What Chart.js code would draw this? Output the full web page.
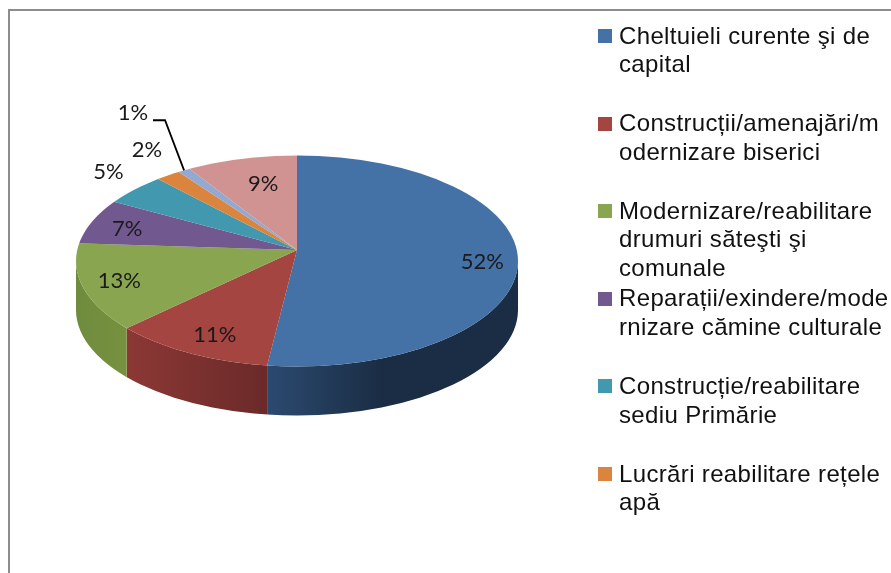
<!DOCTYPE html>
<html lang="ro">
<head>
    <meta charset="UTF-8">
    <title>Pie 3D</title>
    <script src="https://cdn.jsdelivr.net/npm/chart.js"></script>
    <style>
        html, body { margin: 0; padding: 0; background: #fff; }
        canvas { display: block; }
    </style>
</head>
<body>
    <canvas id="pieChart" width="891" height="573"></canvas>

    <script>
        // Values. The last two categories are cut off in the legend
        const categories = [
            'Cheltuieli curente şi de capital',
            'Construcții/amenajări/modernizare biserici',
            'Modernizare/reabilitare drumuri săteşti şi comunale',
            'Reparații/exindere/modernizare cămine culturale',
            'Construcție/reabilitare sediu Primărie',
            'Lucrări reabilitare rețele apă',
            '',
            ''
        ];
        const values = [52, 11, 13, 7, 5, 2, 1, 9];
        const legendLines = [
            ['Cheltuieli curente şi de', 'capital'],
            ['Construcții/amenajări/m', 'odernizare biserici'],
            ['Modernizare/reabilitare', 'drumuri săteşti şi', 'comunale'],
            ['Reparații/exindere/mode', 'rnizare cămine culturale'],
            ['Construcție/reabilitare', 'sediu Primărie'],
            ['Lucrări reabilitare rețele', 'apă']
        ];

        const colors = ['#4471a6', '#a54541', '#89a550', '#71588f', '#4198af', '#db843d', '#93a9cf', '#d19392'];
        const wallLeft = ['#2b4a70', '#8c3835', '#6f8b3d'];
        const wallRight = ['#1b2d45', '#6a2a29', '#76923f'];
        const wallFade = [0.45, 1, 1];

        // Label placement: how far along the slice middle, then a lift in pixels
        const labelReach = [0.84, 0.82, 0.855, 0.8, 1.08, 1.065, 1.32, 0.55];
        const labelLift = [6, 6, 0, 3, -8, -13, -21, -10];

        // Perspective look: wedges meet above the middle of the ellipse
        const view = {
            apexY: 250,
            ellipseY: 261,
            ellipseRy: 105.5,
            backRy: 106,
            frontRy: 108,
            depth: 49,
            overdraw: 1.25
        };

        function ellipsePath(ctx, cx, cy, rx, ry) {
            ctx.beginPath();
            ctx.ellipse(cx, cy, rx, ry, 0, 0, Math.PI * 2);
        }

        // Where a wedge edge at this angle meets the rim of the ellipse
        function rimPoint(arc, angle, reach) {
            const R = arc.outerRadius;
            const dx = Math.cos(angle) * R;
            const dy = Math.sin(angle) * (Math.sin(angle) < 0 ? view.backRy : view.frontRy);
            if (reach !== undefined) {
                return { x: arc.x + dx * reach, y: view.apexY + dy * reach };
            }
            const off = view.apexY - view.ellipseY;
            const ry2 = view.ellipseRy * view.ellipseRy;
            const A = dx * dx / (R * R) + dy * dy / ry2;
            const B = 2 * off * dy / ry2;
            const C = off * off / ry2 - 1;
            const t = (-B + Math.sqrt(B * B - 4 * A * C)) / (2 * A);
            return { x: arc.x + dx * t, y: view.apexY + dy * t };
        }

        const pie3d = {
            id: 'pie3d',
            beforeDraw(chart) {
                // frame of the original picture, open on the right and at the bottom
                const ctx = chart.ctx;
                ctx.save();
                ctx.strokeStyle = '#8c8c8c';
                ctx.lineWidth = 2;
                ctx.beginPath();
                ctx.moveTo(9, chart.height);
                ctx.lineTo(9, 10);
                ctx.lineTo(chart.width, 10);
                ctx.stroke();
                ctx.restore();
            },
            beforeDatasetsDraw(chart) {
                const ctx = chart.ctx;
                const arcs = chart.getDatasetMeta(0).data;
                const cx = arcs[0].x;
                const rx = arcs[0].outerRadius;

                // side wall of the front slices
                arcs.forEach((arc, i) => {
                    const a = rimPoint(arc, arc.startAngle);
                    const b = rimPoint(arc, arc.endAngle);
                    if (a.y < view.ellipseY && b.y < view.ellipseY) return;
                    const sideX = p => p.y >= view.ellipseY ? p.x : (p.x < cx ? cx - rx : cx + rx);
                    const x1 = Math.min(sideX(a), sideX(b));
                    const x2 = Math.max(sideX(a), sideX(b));
                    const grad = ctx.createLinearGradient(x1, 0, x2, 0);
                    grad.addColorStop(0, wallLeft[i]);
                    grad.addColorStop(wallFade[i], wallRight[i]);
                    ctx.save();
                    ctx.beginPath();
                    ctx.rect(x1, 0, x2 - x1, chart.height);
                    ctx.clip();
                    ctx.beginPath();
                    ctx.ellipse(cx, view.ellipseY, rx, view.ellipseRy, 0, 0, Math.PI);
                    ctx.ellipse(cx, view.ellipseY + view.depth, rx, view.ellipseRy, 0, Math.PI, 0, true);
                    ctx.closePath();
                    ctx.fillStyle = grad;
                    ctx.fill();
                    ctx.restore();
                });

                // top face: back half and front half squashed by different amounts
                [[0, view.apexY, view.backRy], [view.apexY, chart.height, view.frontRy]].forEach(([top, bottom, ry]) => {
                    ctx.save();
                    ellipsePath(ctx, cx, view.ellipseY, rx, view.ellipseRy);
                    ctx.clip();
                    ctx.beginPath();
                    ctx.rect(0, top, chart.width, bottom - top);
                    ctx.clip();
                    arcs.forEach(arc => {
                        ctx.save();
                        ctx.translate(arc.x, view.apexY);
                        ctx.scale(view.overdraw, view.overdraw * ry / rx);
                        ctx.translate(-arc.x, -arc.y);
                        arc.draw(ctx);
                        ctx.restore();
                    });
                    ctx.restore();
                });
                return false;
            },
            afterDraw(chart) {
                const ctx = chart.ctx;
                const arcs = chart.getDatasetMeta(0).data;
                ctx.save();

                // percentage labels
                ctx.font = '22px Lato, "Open Sans", sans-serif';
                ctx.fillStyle = '#1a1a1a';
                ctx.textAlign = 'center';
                ctx.textBaseline = 'middle';
                arcs.forEach((arc, i) => {
                    const mid = (arc.startAngle + arc.endAngle) / 2;
                    const p = rimPoint(arc, mid, labelReach[i]);
                    ctx.fillText(values[i] + '%', p.x, p.y + labelLift[i]);
                });

                // leader line of the 1% slice
                const small = arcs[6];
                const mid = (small.startAngle + small.endAngle) / 2;
                const from = rimPoint(small, mid, labelReach[6]);
                const to = rimPoint(small, mid);
                ctx.strokeStyle = '#000';
                ctx.lineWidth = 1.8;
                ctx.beginPath();
                ctx.moveTo(from.x + 20, from.y + labelLift[6] + 7);
                ctx.lineTo(from.x + 32, from.y + labelLift[6] + 7);
                ctx.lineTo(to.x, to.y);
                ctx.stroke();

                // legend, wrapped the way the original wraps it
                ctx.font = '24px "Liberation Sans", Arial, sans-serif';
                ctx.letterSpacing = '0.35px';
                ctx.textAlign = 'left';
                ctx.textBaseline = 'middle';
                legendLines.forEach((lines, i) => {
                    const y = 36 + i * 87.6;
                    ctx.fillStyle = colors[i];
                    ctx.fillRect(598, Math.round(y) - 7, 14, 14);
                    ctx.fillStyle = '#111';
                    lines.forEach((line, j) => ctx.fillText(line, 619, Math.round(y + 0.6 + j * 28.5)));
                });
                ctx.restore();
            }
        };

        new Chart(document.getElementById('pieChart').getContext('2d'), {
            type: 'pie',
            data: {
                labels: categories,
                datasets: [{
                    data: values,
                    backgroundColor: colors,
                    borderWidth: 0
                }]
            },
            options: {
                responsive: false,
                animation: false,
                layout: { padding: { left: 76, right: 373 } },
                plugins: {
                    legend: { display: false },
                    tooltip: { enabled: false }
                }
            },
            plugins: [pie3d]
        });
    </script>
</body>
</html>
